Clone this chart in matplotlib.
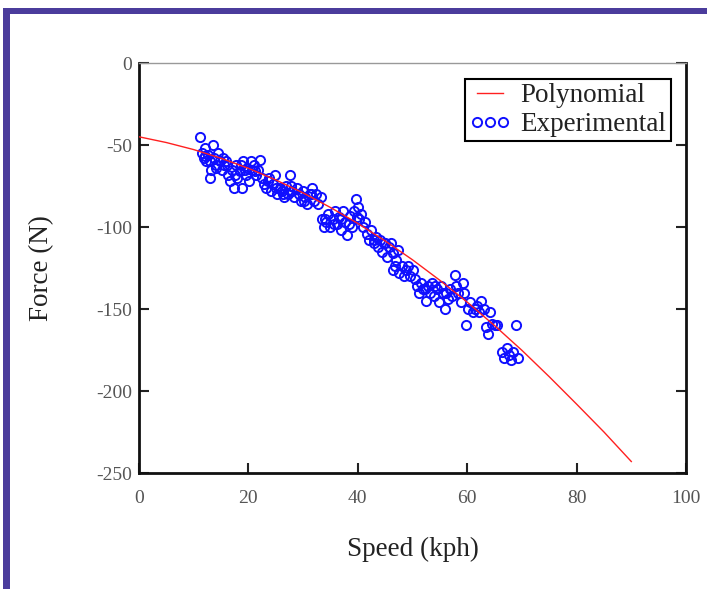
import matplotlib
matplotlib.use("Agg")
import matplotlib.pyplot as plt
from matplotlib.patches import Rectangle

plt.rcParams['font.family'] = ['Liberation Serif', 'DejaVu Serif']
plt.rcParams['axes.unicode_minus'] = False

# Polynomial fit curve
poly_x = [0, 5, 10, 15, 20, 25, 30, 35, 40, 45, 50, 55, 60, 65, 70, 75, 80, 85, 90]
poly_y = [-45, -48.5, -52.8, -58.1, -64.2, -71.3, -79.2, -88.1, -97.8, -108.5,
          -120.0, -132.5, -145.8, -160.1, -175.2, -191.3, -208.0, -225.0, -243.0]

# Experimental measurements
exp_x = [11.2, 11.5, 11.8, 12.0, 12.3, 12.6, 12.9, 13.2, 13.5, 13.8, 14.1, 14.4, 14.8, 15.1, 15.5, 15.9, 16.2,
         12.1, 13.0, 14.0, 15.3, 16.0,
         16.6, 17.0, 17.3, 17.7, 18.0, 18.4, 18.8, 19.1, 19.5, 19.8, 20.2, 20.6, 21.0, 21.4, 21.8, 22.1, 22.5,
         17.5, 18.6, 19.3, 20.4, 21.2,
         22.9, 23.3, 23.7, 24.1, 24.5, 24.9, 25.3, 25.7, 26.1, 26.5, 26.9, 27.3, 27.6, 28.0, 28.4, 28.8,
         23.5, 25.0, 26.3, 27.8,
         29.2, 29.6, 30.0, 30.4, 30.8, 31.2, 31.6, 32.0, 32.4, 32.8, 33.2,
         30.2, 31.4,
         33.5, 33.8, 34.2, 34.6, 35.0, 35.4, 35.8, 36.2, 36.6, 37.0, 37.3, 37.7, 38.1, 38.5, 38.9, 39.3, 39.6,
         40.0, 40.3, 40.6, 41.0, 41.3,
         34.0, 35.6, 36.9, 38.3, 39.8,
         41.7, 42.1, 42.5, 42.9, 43.3, 43.7, 44.1, 44.5, 44.9, 45.3, 45.7, 46.1, 46.5, 46.9, 47.3,
         43.0, 44.7,
         46.4, 46.8, 47.6, 48.0, 48.4, 48.8, 49.2, 49.6, 50.0, 50.4,
         50.8, 51.2, 51.6, 52.0, 52.4, 52.8, 53.2, 53.6, 54.0, 54.4, 54.8, 55.2, 55.6, 56.0, 56.4, 56.8, 57.2,
         57.7, 58.0, 58.4, 58.8, 59.2,
         52.2, 54.2, 56.2,
         59.5, 59.8, 60.2, 60.6, 61.0, 61.4, 61.8, 62.2, 62.6, 63.0, 63.5, 63.8, 64.2, 64.6, 65.0, 65.4,
         66.4, 66.8, 67.2, 67.6, 68.0, 68.4, 69.0, 69.2]
exp_y = [-45, -55, -58, -52, -60, -56, -70, -65, -50, -58, -62, -55, -60, -65, -62, -60, -68,
         -57, -60, -64, -58, -62,
         -72, -65, -76, -62, -70, -66, -76, -60, -68, -64, -72, -65, -62, -68, -65, -59, -70,
         -68, -62, -65, -60, -66,
         -74, -76, -70, -78, -74, -68, -80, -76, -78, -82, -75, -80, -68, -78, -82, -76,
         -72, -76, -80, -75,
         -80, -84, -78, -82, -86, -80, -76, -84, -80, -86, -82,
         -84, -80,
         -95, -100, -97, -92, -100, -95, -90, -98, -94, -102, -90, -97, -105, -93, -100, -90, -83,
         -88, -95, -92, -100, -97,
         -95, -98, -95, -98, -94,
         -104, -108, -102, -110, -106, -112, -108, -115, -110, -118, -112, -110, -116, -120, -114,
         -108, -110,
         -126, -124, -128, -124, -130, -126, -124, -130, -126, -132,
         -136, -140, -134, -138, -145, -136, -140, -134, -142, -138, -146, -136, -140, -150, -144, -138, -142,
         -129, -136, -140, -146, -134,
         -138, -136, -140,
         -140, -160, -150, -146, -152, -150, -148, -152, -145, -150, -161, -165, -152, -159, -160, -160,
         -176, -180, -174, -178, -181, -176, -160, -180]

x_ticks = [0, 20, 40, 60, 80, 100]
y_ticks = [0, -50, -100, -150, -200, -250]

fig = plt.figure(figsize=(7.07, 5.89), dpi=100)
fig.patch.set_facecolor('white')

# purple frame border (top and left)
border = '#4b3c9c'
fig.add_artist(Rectangle((3/707, 0), 7/707, 1 - 8/589, transform=fig.transFigure,
                         facecolor=border, edgecolor='none'))
fig.add_artist(Rectangle((3/707, 1 - 14/589), 1, 6/589, transform=fig.transFigure,
                         facecolor=border, edgecolor='none'))

ax = fig.add_axes([139/707, 1 - 473/589, (686 - 139)/707, (473 - 63)/589])

ax.plot(poly_x, poly_y, color='#ff2020', lw=1.0, label='Polynomial', zorder=3)
ax.plot(exp_x, exp_y, linestyle='none', marker='o', markersize=6.6, markerfacecolor='none',
        markeredgecolor='#1010ff', markeredgewidth=1.4, label='Experimental', zorder=2)

ax.set_xlim(0, 100)
ax.set_ylim(-250, 0)
ax.set_xticks(x_ticks)
ax.set_yticks(y_ticks)
ax.set_xticklabels([str(v) for v in x_ticks])
ax.set_yticklabels([str(v) for v in y_ticks])

ax.tick_params(axis='both', direction='in', length=7, width=1.5, color='#222222',
               labelsize=14, labelcolor='#555555')
ax.tick_params(axis='x', pad=12)
ax.tick_params(axis='y', pad=5, right=True)

for s in ['left', 'bottom', 'right']:
    ax.spines[s].set_linewidth(2.0)
    ax.spines[s].set_color('#111111')
ax.spines['top'].set_linewidth(1.0)
ax.spines['top'].set_color('#999999')

ax.set_xlabel('Speed (kph)', fontsize=19.5, color='#222222', labelpad=22)
ax.set_ylabel('Force (N)', fontsize=19.5, color='#222222', labelpad=30)

leg = ax.legend(loc='upper right', bbox_to_anchor=(0.972, 0.961), borderaxespad=0,
                fontsize=19.5, numpoints=3, handlelength=1.55, handletextpad=0.35,
                borderpad=0.15, labelspacing=0.15, fancybox=False, framealpha=1,
                edgecolor='black')
leg.get_frame().set_linewidth(1.5)
for t in leg.get_texts():
    t.set_color('#222222')

fig.savefig('out.png', dpi=100)
